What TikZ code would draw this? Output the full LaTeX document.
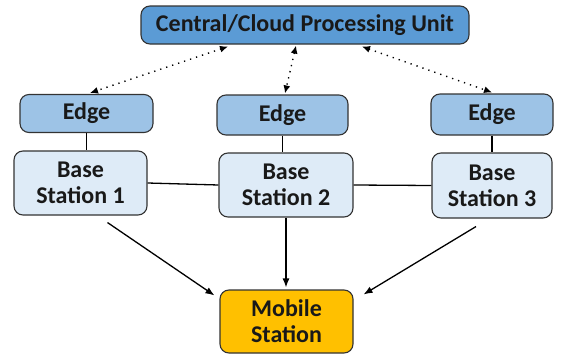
\documentclass[tikz,border=0pt]{standalone}
\usepackage{fontspec}
\setmainfont{Carlito}
\usetikzlibrary{calc,arrows.meta}
\definecolor{cloudblue}{HTML}{5B9BD5}
\definecolor{edgeblue}{HTML}{9DC3E6}
\definecolor{bslight}{HTML}{DEEBF7}
\definecolor{mobgold}{HTML}{FFC000}
\definecolor{bordergray}{HTML}{333333}
\tikzset{
  box/.style={draw=bordergray, line width=1.1pt, rounded corners=9pt, inner sep=0pt,
    align=center, font=\fontsize{24}{26}\selectfont\bfseries, text=black!90},
  cloudbox/.style={box, fill=cloudblue},
  edgebox/.style={box, fill=edgeblue},
  bsbox/.style={box, fill=bslight},
  mobbox/.style={box, fill=mobgold},
  link/.style={line width=1.3pt, black},
  solidarrow/.style={line width=1.3pt, black, -{Latex[length=9pt,width=7pt]}},
  dotarrow/.style={line width=1.4pt, black, dash pattern=on 1.3pt off 5pt,
    {Latex[length=8pt,width=7pt]}-{Latex[length=8pt,width=7pt]}}
}
\begin{document}
\begin{tikzpicture}[x=1pt,y=-1pt]
\useasboundingbox (0,0) rectangle (563,356);
\node[cloudbox, minimum width=328pt, minimum height=38pt] (cpu) at (305,25) {Central/Cloud Processing Unit};
\node[edgebox, minimum width=133pt, minimum height=38pt] (e1) at (86.5,113.5) {Edge};
\node[edgebox, minimum width=131pt, minimum height=40pt] (e2) at (282.5,115) {Edge};
\node[edgebox, minimum width=122pt, minimum height=41pt] (e3) at (492,114.5) {Edge};
\node[bsbox, minimum width=133pt, minimum height=64pt] (b1) at (80.5,183) {Base\\Station 1};
\node[bsbox, minimum width=134pt, minimum height=64pt] (b2) at (286,185) {Base\\Station 2};
\node[bsbox, minimum width=120pt, minimum height=65pt] (b3) at (492,185.5) {Base\\Station 3};
\node[mobbox, minimum width=133pt, minimum height=63pt] (ms) at (286.5,321.5) {Mobile\\Station};

% dotted links cloud <-> edges
\draw[dotarrow] ($(cpu.south)+(-77,2)$) -- ($(e1.north)+(3.5,-1)$);
\draw[dotarrow] ($(cpu.south)+(-9,1)$) -- ($(e2.north)+(2.5,-1)$);
\draw[dotarrow] ($(cpu.south)+(57,2)$) -- ($(e3.north)+(0,-1)$);

% edge - base station
\draw[link] (e1.south) -- (e1.south |- b1.north);
\draw[link] (e2.south) -- (e2.south |- b2.north);
\draw[link] (e3.south) -- (e3.south |- b3.north);

% base station chain
\draw[link] (b1.east) -- (b2.west);
\draw[link] (b2.east) -- (b3.west);

% to mobile station
\draw[solidarrow] ($(b1.south)+(27,7)$) -- ($(ms.north west)+(-5,6)$);
\draw[solidarrow] (b2.south) -- ($(ms.north)+(-0.5,-2)$);
\draw[solidarrow] ($(b3.south)+(-16,8)$) -- ($(ms.north east)+(10,5)$);
\end{tikzpicture}
\end{document}
